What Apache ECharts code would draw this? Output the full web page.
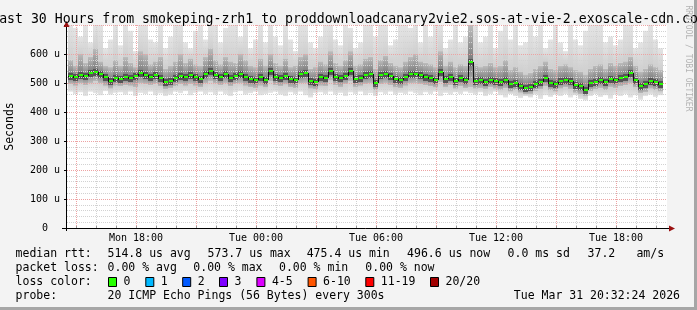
<!DOCTYPE html>
<html><head><meta charset="utf-8">
<script src="https://cdn.jsdelivr.net/npm/echarts@6/dist/echarts.min.js"></script>
<style>html,body{margin:0;padding:0;background:#f3f3f3}#c{width:697px;height:310px}</style>
</head><body><div id="c"></div>
<script>
// ---------- data (values in microseconds, time in hours since Mon 00:00) ----------
const titleText = 'Last 30 Hours from smokeping-zrh1 to proddownloadcanary2vie2.sos-at-vie-2.exoscale-cdn.com';
const axisStartHour = 14.55, axisEndHour = 44.55;
const firstStepHour = 14.6, stepHours = 0.25;
const xLabelHours = [18, 24, 30, 36, 42];
const xLabels = ['Mon 18:00', 'Tue 00:00', 'Tue 06:00', 'Tue 12:00', 'Tue 18:00'];
const yMax = 700, yStep = 100, yLabelMax = 600;

const med = [
524,520,528,525,534,538,530,522,506,518,
515,520,517,524,535,528,522,526,518,505,
508,516,524,519,527,520,514,530,540,528,
522,530,518,525,532,521,515,510,520,512,
540,522,518,524,513,510,530,534,508,505,
520,517,543,522,516,524,542,514,518,527,
530,500,526,532,524,513,510,520,530,532,
526,522,518,512,538,515,522,508,516,510,
573.7,508,510,505,512,508,503,510,497,500,
490,482,485,498,505,518,500,495,508,512,
506,492,488,475.4,500,505,510,503,515,510,
517,522,533,512,490,495,508,502,496.6];
const maxv = [
700,690,660,700,640,700,700,620,650,700,
630,700,680,610,700,700,650,640,700,620,
660,700,700,640,620,680,700,650,700,700,
640,690,700,700,660,700,620,650,700,640,
700,660,630,700,650,610,700,700,640,620,
660,700,700,650,630,700,690,620,640,700,
700,660,700,700,630,650,700,700,690,700,
640,700,660,700,700,620,650,700,640,660,
700,700,640,660,700,620,680,700,650,700,
630,640,700,660,700,620,650,700,640,610,
700,650,630,680,700,700,700,640,660,630,
650,700,700,620,640,680,700,650,620];
const up = [
580,560,600,570,590,620,575,560,555,580,
560,590,570,555,610,600,565,575,590,550,
560,575,600,570,585,565,560,590,620,580,
565,590,575,570,600,580,560,555,585,560,
600,570,560,585,555,560,590,600,550,555,
575,565,610,570,560,580,610,560,565,585,
590,550,580,595,570,560,555,575,590,600,
575,570,565,555,610,560,575,555,565,560,
700,565,555,560,570,555,560,580,545,555,
540,530,535,550,560,575,550,545,560,565,
555,545,540,530,550,560,565,550,570,560,
570,575,590,560,540,550,565,555,545];
const dn = [
495,490,498,492,500,505,498,490,480,490,
488,492,490,485,498,495,492,495,488,478,
482,488,495,490,496,490,485,498,505,498,
492,500,488,495,500,490,485,482,490,484,
505,492,488,494,485,482,498,500,480,478,
490,488,508,492,486,495,505,486,490,496,
498,475,495,500,492,484,482,490,498,500,
495,492,488,484,502,486,492,480,488,482,
485,480,482,478,485,480,476,482,470,474,
466,460,462,472,478,488,474,470,480,485,
478,466,460,455,472,478,482,475,486,482,
488,492,500,484,464,468,480,474,470];
const minv = [
470,462,468,455,470,465,458,472,460,466,
468,460,470,455,466,462,470,458,464,455,
460,470,465,472,458,466,470,462,468,460,
470,462,455,468,472,460,465,470,458,462,
466,470,460,455,468,462,470,458,450,465,
468,462,470,460,466,455,468,462,470,458,
465,455,468,462,470,460,466,462,470,465,
458,468,462,470,455,466,460,468,462,470,
465,460,468,455,462,470,458,450,462,455,
448,455,450,460,445,458,452,460,455,462,
450,458,445,440,455,462,452,458,446,460,
455,462,450,458,442,455,460,452,458];

const medianLabel = 'median rtt:';
const medianStats = ['514.8 us avg', '573.7 us max', '475.4 us min', '496.6 us now', '0.0 ms sd', '37.2', 'am/s'];
const lossLabel = 'packet loss:';
const lossStats = ['0.00 % avg', '0.00 % max', '0.00 % min', '0.00 % now'];
const colorLabel = 'loss color:';
const lossLabels = ['0', '1', '2', '3', '4-5', '6-10', '11-19', '20/20'];
const probeLabel = 'probe:';
const probeText = '20 ICMP Echo Pings (56 Bytes) every 300s';
const stampText = 'Tue Mar 31 20:32:24 2026';
const watermark = 'RRDTOOL / TOBI OETIKER';
const yName = 'Seconds';

// ---------- styles / layout ----------
const MONO = '"DejaVu Sans Mono", monospace';
const lossColors = ['#26ff00', '#00b8ff', '#0059ff', '#7e00ff', '#dd00ff', '#ff5500', '#ff0000', '#a10000'];
const medianColStatsX = [107.6, 207.6, 306.7, 407.1, 507.6, 587.6, 636.4];
const lossStatsX = [107.6, 193.3, 279, 365.3];
const boxX = [108, 145.3, 182.2, 219, 256.4, 307.6, 365.3, 430];
const MAJOR = '#eda3a3', MINOR = '#d2d2d2';
const LG = echarts.graphic.LinearGradient;

const gridHours = [];
for (let h = Math.ceil(axisStartHour); h <= Math.floor(axisEndHour); h++) gridHours.push(h);

const seriesData = med.map((m, i) => [firstStepHour + i * stepHours, m, i > 0 ? med[i - 1] : m, minv[i], dn[i], up[i], maxv[i]]);

function stepX(api) {
  const t = api.value(0);
  const x0 = Math.round(api.coord([t, 0])[0]);
  const x1 = Math.round(api.coord([t + stepHours, 0])[0]);
  return [x0, x1];
}
function renderSmoke(params, api) {
  const [x0, x1] = stepX(api);
  const t = api.value(0);
  const y = v => api.coord([t, v])[1];
  const yM = Math.round(y(api.value(1)));
  const yLo = y(api.value(3)), yDn = y(api.value(4)), yUp = y(api.value(5)), yHi = y(api.value(6));
  const w = x1 - x0;
  return { type: 'group', children: [
    { type: 'rect', shape: { x: x0, y: yHi, width: w, height: yUp - yHi },
      style: { fill: new LG(0, 0, 0, 1, [{ offset: 0, color: '#e4e4e4' }, { offset: 1, color: '#cfcfcf' }]) } },
    { type: 'rect', shape: { x: x0, y: yDn, width: w, height: yLo - yDn },
      style: { fill: new LG(0, 0, 0, 1, [{ offset: 0, color: '#cfcfcf' }, { offset: 1, color: '#e4e4e4' }]) } },
    { type: 'rect', shape: { x: x0, y: yUp, width: w, height: yM - yUp },
      style: { fill: new LG(0, 0, 0, 1, [{ offset: 0, color: '#bdbdbd' }, { offset: 1, color: '#777777' }]) } },
    { type: 'rect', shape: { x: x0, y: yM, width: w, height: yDn - yM },
      style: { fill: new LG(0, 0, 0, 1, [{ offset: 0, color: '#777777' }, { offset: 1, color: '#bdbdbd' }]) } },
    { type: 'rect', shape: { x: x0, y: yM - 3, width: w, height: 7 }, style: { fill: '#555555' } }
  ]};
}
function renderMedian(params, api) {
  const [x0, x1] = stepX(api);
  const t = api.value(0);
  const yM = Math.round(api.coord([t, api.value(1)])[1]);
  const yP = Math.round(api.coord([t, api.value(2)])[1]);
  return { type: 'group', children: [
    { type: 'line', shape: { x1: x0 + 0.5, y1: yP, x2: x0 + 0.5, y2: yM + 1 }, style: { stroke: '#111', lineWidth: 1 } },
    { type: 'rect', shape: { x: x0 + 1, y: yM - 1, width: x1 - x0 - 1, height: 2 }, style: { fill: lossColors[0] } }
  ]};
}
function renderVGrid(params, api) {
  const h = api.value(0);
  const x = Math.round(api.coord([h, 0])[0]) + 0.5;
  const cs = params.coordSys;
  return { type: 'line', shape: { x1: x, y1: cs.y, x2: x, y2: cs.y + cs.height },
    style: { stroke: h % 3 === 0 ? MAJOR : MINOR, lineWidth: 1, lineDash: [1, 1] } };
}

const txt = (text, x, y, extra) => Object.assign({ type: 'text', x, y, z: 20,
  style: Object.assign({ text, font: '11.5px ' + MONO, fill: '#000', verticalAlign: 'middle', align: 'left' }, extra || {}) });

const graphics = [
  { type: 'rect', shape: { x: 694, y: 0, width: 3, height: 310 }, style: { fill: '#a6a6a6' }, z: 1 },
  { type: 'rect', shape: { x: 0, y: 307, width: 697, height: 3 }, style: { fill: '#a6a6a6' }, z: 1 },
  txt(titleText, 348.5, 19.5, { font: '13.2px ' + MONO, align: 'center' }),
  { type: 'text', x: 688, y: 58.5, rotation: -Math.PI / 2, z: 20,
    style: { text: watermark, font: '8px ' + MONO, fill: '#b3b3b3', align: 'center', verticalAlign: 'middle' } },
  { type: 'text', x: 10, y: 126.5, rotation: Math.PI / 2, z: 20,
    style: { text: yName, font: '11.5px ' + MONO, fill: '#000', align: 'center', verticalAlign: 'middle' } },
  { type: 'line', shape: { x1: 62, y1: 228.5, x2: 669, y2: 228.5 }, style: { stroke: '#000', lineWidth: 1 }, z: 15 },
  { type: 'line', shape: { x1: 66.5, y1: 231, x2: 66.5, y2: 24 }, style: { stroke: '#000', lineWidth: 1 }, z: 15 },
  { type: 'polygon', shape: { points: [[669, 225.5], [675, 228.5], [669, 231.5]] }, style: { fill: '#9a1010' }, z: 16 },
  { type: 'polygon', shape: { points: [[63.5, 27], [66.5, 21], [69.5, 27]] }, style: { fill: '#9a1010' }, z: 16 },
  txt(medianLabel, 15.6, 254),
  txt(lossLabel, 15.6, 268),
  txt(colorLabel, 15.6, 282),
  txt(probeLabel, 15.6, 296),
  txt(probeText, 107.6, 296),
  txt(stampText, 680, 296, { align: 'right' })
];
medianStats.forEach((s, i) => graphics.push(txt(s, medianColStatsX[i], 254)));
lossStats.forEach((s, i) => graphics.push(txt(s, lossStatsX[i], 268)));
lossLabels.forEach((s, i) => {
  graphics.push({ type: 'rect', z: 20, shape: { x: boxX[i] + 0.5, y: 277.5, width: 8, height: 9 }, style: { fill: lossColors[i], stroke: '#000', lineWidth: 1 } });
  graphics.push(txt(s, boxX[i] + 15.5, 282));
});

const chart = echarts.init(document.getElementById('c'), null, { renderer: 'canvas', width: 697, height: 310 });
chart.setOption({
  animation: false,
  backgroundColor: '#f3f3f3',
  grid: { left: 67, right: 30, top: 25, bottom: 82, show: true, backgroundColor: '#ffffff', borderWidth: 0 },
  xAxis: {
    type: 'value', min: axisStartHour, max: axisEndHour, z: 3,
    axisLine: { show: false },
    splitLine: { show: false },
    axisTick: { show: true, customValues: gridHours, length: 2, inside: true, lineStyle: { color: '#999' } },
    axisLabel: { customValues: xLabelHours, formatter: v => xLabels[xLabelHours.indexOf(v)] || '',
      fontFamily: MONO, fontSize: 10, color: '#000', margin: 5 }
  },
  yAxis: {
    type: 'value', min: 0, max: yMax, interval: yStep, z: 3,
    axisLine: { show: false },
    axisTick: { show: true, length: 3, lineStyle: { color: '#000' } },
    minorTick: { show: false, splitNumber: 5 },
    splitLine: { show: true, lineStyle: { color: MAJOR, type: [1, 1] } },
    minorSplitLine: { show: true, lineStyle: { color: MINOR, type: [1, 1] } },
    axisLabel: { formatter: v => v > yLabelMax ? '' : (v === 0 ? '0  ' : v + ' u'), fontFamily: MONO, fontSize: 10, color: '#000', margin: 7 }
  },
  graphic: graphics,
  series: [
    { type: 'custom', name: 'smoke', z: 1, renderItem: renderSmoke, data: seriesData, encode: { x: 0, y: 1 }, silent: true },
    { type: 'custom', name: 'vgrid', z: 3, renderItem: renderVGrid, data: gridHours.map(h => [h]), encode: { x: 0 }, silent: true },
    { type: 'custom', name: 'median', z: 5, renderItem: renderMedian, data: seriesData, encode: { x: 0, y: 1 }, silent: true }
  ]
});
</script>
</body></html>
